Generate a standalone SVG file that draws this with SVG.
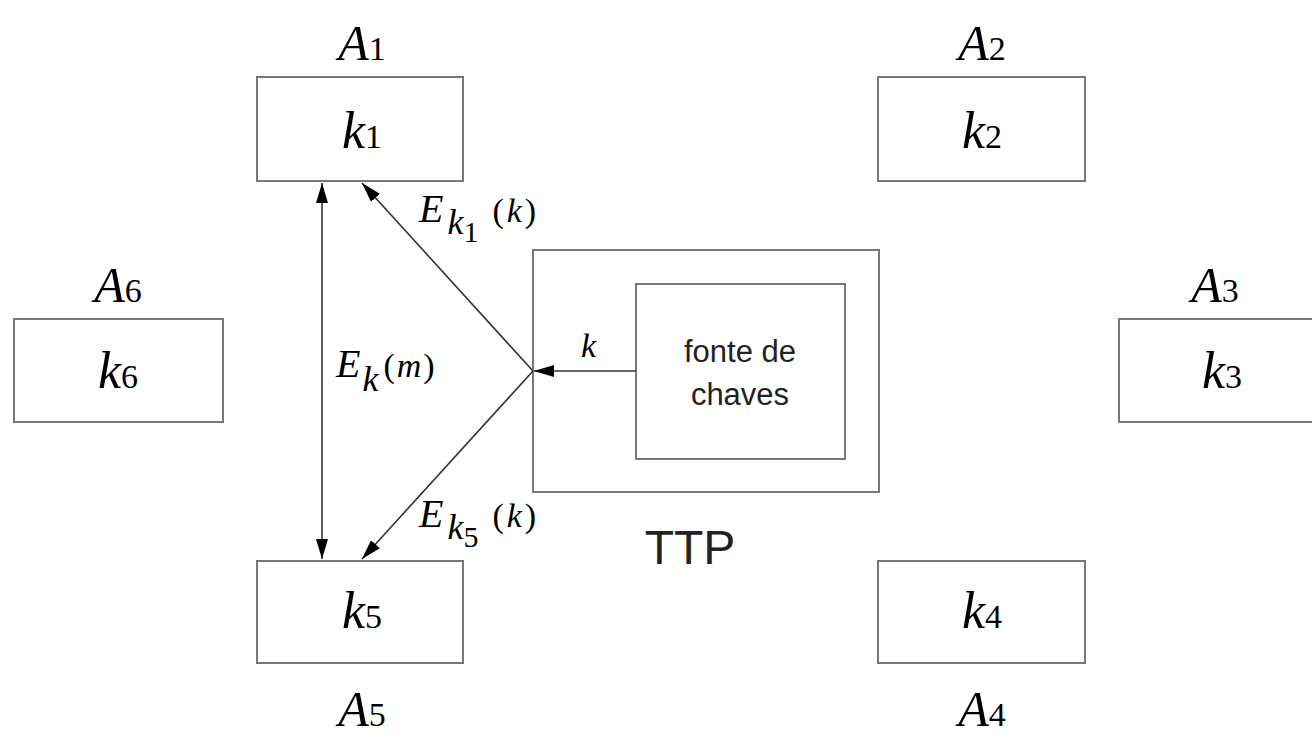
<svg xmlns="http://www.w3.org/2000/svg" width="1312" height="740" viewBox="0 0 1312 740">
<style>
.box{fill:#fff;stroke:#777;stroke-width:2}
.m{font-family:'Liberation Serif',serif;font-style:italic;fill:#000}
.n{font-style:normal}
.s{font-family:"Liberation Sans",Arial,sans-serif;fill:#222}
.c{stroke:#333;stroke-width:1.6;fill:none}
.a{font-size:50px}
.d{font-size:34px}
.k{font-size:52px}
</style>
<defs>
<marker id="ah" viewBox="0 0 20 12" refX="20" refY="6" markerWidth="20" markerHeight="12" markerUnits="userSpaceOnUse" orient="auto-start-reverse">
<path d="M0,0 L20,6 L0,12 Z" fill="#000"/>
</marker>
</defs>
<rect width="1312" height="740" fill="#fff"/>
<g id="A1"><rect class="box" x="257" y="77" width="206" height="104"/>
<text class="m a" x="362" y="60" text-anchor="middle">A<tspan class="n d">1</tspan></text>
<text class="m k" x="362" y="148" text-anchor="middle">k<tspan class="n d">1</tspan></text></g>
<g id="A2"><rect class="box" x="878" y="77" width="207" height="104"/>
<text class="m a" x="982" y="60" text-anchor="middle">A<tspan class="n d">2</tspan></text>
<text class="m k" x="982" y="148" text-anchor="middle">k<tspan class="n d">2</tspan></text></g>
<g id="A3"><rect class="box" x="1119" y="319" width="200" height="103"/>
<text class="m a" x="1215" y="302" text-anchor="middle">A<tspan class="n d">3</tspan></text>
<text class="m k" x="1222" y="388" text-anchor="middle">k<tspan class="n d">3</tspan></text></g>
<g id="A6"><rect class="box" x="14" y="319" width="209" height="103"/>
<text class="m a" x="118" y="302" text-anchor="middle">A<tspan class="n d">6</tspan></text>
<text class="m k" x="118" y="388" text-anchor="middle">k<tspan class="n d">6</tspan></text></g>
<g id="A5"><rect class="box" x="257" y="561" width="206" height="102"/>
<text class="m k" x="362" y="628" text-anchor="middle">k<tspan class="n d">5</tspan></text>
<text class="m a" x="362" y="726" text-anchor="middle">A<tspan class="n d">5</tspan></text></g>
<g id="A4"><rect class="box" x="878" y="561" width="207" height="102"/>
<text class="m k" x="982" y="628" text-anchor="middle">k<tspan class="n d">4</tspan></text>
<text class="m a" x="982" y="726" text-anchor="middle">A<tspan class="n d">4</tspan></text></g>
<g id="TTP"><rect class="box" x="533" y="250" width="346" height="242"/>
<text class="s" x="690" y="564" font-size="48" text-anchor="middle">TTP</text></g>
<g id="fonte"><rect class="box" x="636" y="284" width="209" height="175"/>
<text class="s" x="740" y="362" font-size="31" text-anchor="middle">fonte de</text>
<text class="s" x="740" y="405" font-size="31" text-anchor="middle">chaves</text></g>
<g id="connectors">
<line class="c" x1="636" y1="371" x2="534" y2="371" marker-end="url(#ah)"/>
<line class="c" x1="533" y1="371" x2="362" y2="183" marker-end="url(#ah)"/>
<line class="c" x1="533" y1="371" x2="362" y2="559" marker-end="url(#ah)"/>
<line class="c" x1="322" y1="183" x2="322" y2="559" marker-start="url(#ah)" marker-end="url(#ah)"/>
</g>
<g id="labels">
<text class="m" x="581" y="357" font-size="34">k</text>
<text class="m" x="419" y="222" font-size="40">E<tspan font-size="36" dx="4" dy="12">k</tspan><tspan class="n" font-size="30" dy="8">1</tspan><tspan class="n" font-size="34" dx="14" dy="-20">(</tspan><tspan font-size="34" dx="3">k</tspan><tspan class="n" font-size="34" dx="3">)</tspan></text>
<text class="m" x="336" y="377" font-size="40">E<tspan font-size="36" dx="2" dy="14">k</tspan><tspan class="n" font-size="34" dx="5" dy="-14">(</tspan><tspan font-size="34" dx="2">m</tspan><tspan class="n" font-size="34" dx="2">)</tspan></text>
<text class="m" x="419" y="527" font-size="40">E<tspan font-size="36" dx="4" dy="12">k</tspan><tspan class="n" font-size="30" dy="8">5</tspan><tspan class="n" font-size="34" dx="14" dy="-20">(</tspan><tspan font-size="34" dx="3">k</tspan><tspan class="n" font-size="34" dx="3">)</tspan></text>
</g>
</svg>
